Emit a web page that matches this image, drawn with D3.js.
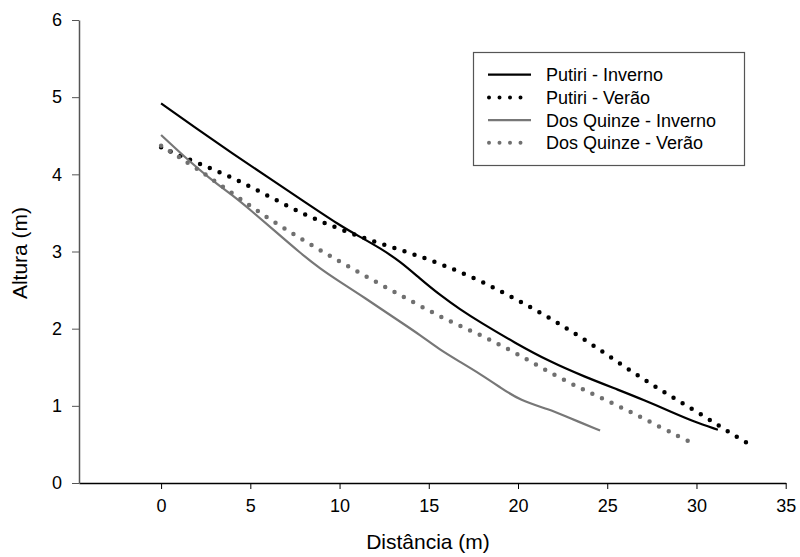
<!DOCTYPE html>
<html>
<head>
<meta charset="utf-8">
<script src="https://cdn.jsdelivr.net/npm/d3@7"></script>
<style>
  body { margin: 0; background: #fff; }
  text { font-family: "Liberation Sans", Arial, sans-serif; fill: #000; }
</style>
</head>
<body>
<div id="chart"></div>
<script>
/*** DATA ***/
const seriesNames = ["Putiri - Inverno", "Putiri - Verão", "Dos Quinze - Inverno", "Dos Quinze - Verão"];

const putiriInvernoX = [0, 2, 4, 6, 8, 10, 11.15, 12.3, 13.4, 14.5, 15.6, 16.75, 17.9, 19.8, 21.8, 23.7, 25.7, 27, 28.7, 29.8, 31.2];
const putiriInvernoY = [4.92, 4.59, 4.27, 3.96, 3.65, 3.34, 3.19, 3.04, 2.87, 2.65, 2.44, 2.25, 2.08, 1.82, 1.57, 1.38, 1.2, 1.08, 0.91, 0.8, 0.69];

const putiriVeraoX = [0, 2, 4, 6, 8, 10, 12, 14, 16, 18, 20, 22, 24, 26, 28, 30, 32, 33];
const putiriVeraoY = [4.35, 4.15, 3.96, 3.72, 3.48, 3.29, 3.12, 2.98, 2.81, 2.61, 2.37, 2.11, 1.82, 1.5, 1.2, 0.93, 0.63, 0.5];

const quinzeInvernoX = [0, 1.25, 2.75, 4, 5, 6.4, 7.8, 8.9, 10, 11.15, 12.3, 13.4, 14.5, 15.6, 16.75, 17.9, 19, 20.1, 21.8, 22.7, 24.6];
const quinzeInvernoY = [4.51, 4.24, 3.94, 3.73, 3.54, 3.26, 2.98, 2.78, 2.61, 2.44, 2.26, 2.09, 1.92, 1.73, 1.57, 1.41, 1.24, 1.07, 0.95, 0.86, 0.68];

const quinzeVeraoX = [0, 2, 4, 6, 8, 10, 12, 14, 16, 18, 20, 22, 24, 26, 28, 30];
const quinzeVeraoY = [4.37, 4.08, 3.75, 3.43, 3.14, 2.87, 2.61, 2.36, 2.11, 1.91, 1.67, 1.4, 1.17, 0.96, 0.72, 0.49];

const xTicks = [0, 5, 10, 15, 20, 25, 30, 35];
const yTicks = [0, 1, 2, 3, 4, 5, 6];

/*** STYLE ***/
const styles = [
  {color: "#000", dotted: false},
  {color: "#000", dotted: true},
  {color: "#777", dotted: false},
  {color: "#707070", dotted: true}
];

const width = 800, height = 557;

const svg = d3.select("#chart").append("svg")
    .attr("width", width)
    .attr("height", height);

svg.append("rect").attr("width", width).attr("height", height).attr("fill", "#fff");

const x = d3.scaleLinear().domain([-4.6, 35]).range([79, 785.7]);
const y = d3.scaleLinear().domain([0, 6]).range([483, 20]);

// axes
const xAxis = svg.append("g")
    .attr("transform", "translate(0," + y(0) + ")")
    .call(d3.axisBottom(x).tickValues(xTicks).tickFormat(d3.format("d")).tickSize(6).tickSizeOuter(0).tickPadding(10));
xAxis.select(".domain").attr("stroke", "#000").attr("stroke-width", 1.5);
xAxis.selectAll(".tick line").attr("stroke", "#000");
xAxis.selectAll("text").attr("font-size", 18).attr("font-family", "Liberation Sans, Arial");

const yAxis = svg.append("g")
    .attr("transform", "translate(" + x(-4.6) + ",0)")
    .call(d3.axisLeft(y).tickValues(yTicks).tickFormat(d3.format("d")).tickSize(7).tickSizeOuter(0).tickPadding(10));
yAxis.select(".domain").attr("stroke", "#555").attr("stroke-width", 1.5);
yAxis.selectAll(".tick line").attr("stroke", "#555");
yAxis.selectAll("text").attr("font-size", 18).attr("font-family", "Liberation Sans, Arial");

// axis titles
svg.append("text")
    .attr("x", 428)
    .attr("y", 549)
    .attr("text-anchor", "middle")
    .attr("font-size", 21)
    .text("Distância (m)");

svg.append("text")
    .attr("transform", "translate(27,253) rotate(-90)")
    .attr("text-anchor", "middle")
    .attr("font-size", 21)
    .text("Altura (m)");

// lines
const allX = [putiriInvernoX, putiriVeraoX, quinzeInvernoX, quinzeVeraoX];
const allY = [putiriInvernoY, putiriVeraoY, quinzeInvernoY, quinzeVeraoY];

const line = d3.line()
    .x(d => x(d[0]))
    .y(d => y(d[1]))
    .curve(d3.curveBasis);

allX.forEach(function (xs, i) {
    const pts = xs.map((v, j) => [v, allY[i][j]]);
    const p = svg.append("path")
        .attr("d", line(pts))
        .attr("fill", "none")
        .attr("stroke", styles[i].color);
    if (styles[i].dotted) {
        p.attr("stroke-width", 4.5)
         .attr("stroke-linecap", "round")
         .attr("stroke-dasharray", "0 10.6");
    } else {
        p.attr("stroke-width", 2.2);
    }
});

// legend
const legend = svg.append("g");
legend.append("rect")
    .attr("x", 473.5).attr("y", 52.5)
    .attr("width", 271).attr("height", 113)
    .attr("fill", "#fff")
    .attr("stroke", "#555")
    .attr("stroke-width", 1.2);

seriesNames.forEach(function (name, i) {
    const ly = 74.7 + i * 22.7;
    const l = legend.append("line")
        .attr("x1", 488).attr("x2", 531)
        .attr("y1", ly).attr("y2", ly)
        .attr("stroke", styles[i].color);
    if (styles[i].dotted) {
        l.attr("x1", 489).attr("x2", 531)
         .attr("stroke-width", 4)
         .attr("stroke-linecap", "round")
         .attr("stroke-dasharray", "0 10.5");
    } else {
        l.attr("stroke-width", 2.2);
    }
    legend.append("text")
        .attr("x", 546)
        .attr("y", ly + 6.5)
        .attr("font-size", 18)
        .text(name);
});
</script>
</body>
</html>
